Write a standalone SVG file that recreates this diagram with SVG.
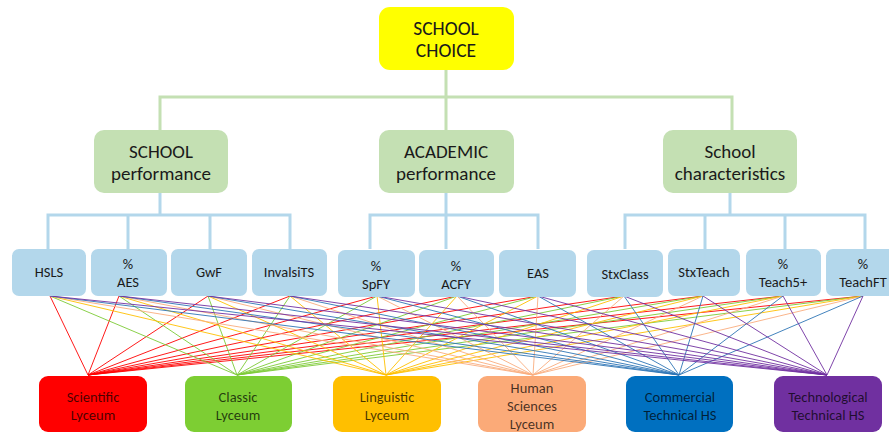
<svg xmlns="http://www.w3.org/2000/svg" width="889" height="434" viewBox="0 0 889 434">
<defs>
<style>
text{font-family:Carlito,"Liberation Sans Narrow","Open Sans",sans-serif;text-anchor:middle;dominant-baseline:central;fill:#1a1a1a}
.top{fill:#FFFF00}
.grp{fill:#C4E0B3}
.ind{fill:#B3D7EB}
.t1{font-size:19.5px}
.t2{font-size:19px}
.t3{font-size:14.5px}
.t4{font-size:14.5px;fill:#000;fill-opacity:0.72}
.gl{stroke:#C4E0B3;stroke-width:3;fill:none}
.bl{stroke:#B3D7EB;stroke-width:3;fill:none}
.c1{stroke:#FF0000}.c2{stroke:#7DCB35}.c3{stroke:#FFC000}.c4{stroke:#F9AD7E}.c5{stroke:#2E75B6}.c6{stroke:#7030A0}
#links line{stroke-width:0.9}
</style>
</defs>
<rect width="889" height="434" fill="#fff"/>
<g id="connectors">
<path class="gl" d="M446 70V97M160 130V97H732V130M446 97V130"/>
<path class="bl" d="M160 192V215M48 249V215H290V249M128 215V249M210 215V249"/>
<path class="bl" d="M446 192V249M370 249V215H538V249"/>
<path class="bl" d="M730 192V215M625 249V215H865V249M705 215V249M785 215V249"/>
</g>
<g id="links">
<g class="c1">
<line x1="50" y1="296" x2="88" y2="375"/><line x1="119" y1="296" x2="88" y2="375"/><line x1="208" y1="296" x2="88" y2="375"/><line x1="290" y1="296" x2="88" y2="375"/><line x1="377" y1="296" x2="88" y2="375"/><line x1="457" y1="296" x2="88" y2="375"/><line x1="538" y1="296" x2="88" y2="375"/><line x1="624" y1="296" x2="88" y2="375"/><line x1="703" y1="296" x2="88" y2="375"/><line x1="783" y1="296" x2="88" y2="375"/><line x1="863" y1="296" x2="88" y2="375"/>
</g>
<g class="c2">
<line x1="50" y1="296" x2="237" y2="375"/><line x1="119" y1="296" x2="237" y2="375"/><line x1="208" y1="296" x2="237" y2="375"/><line x1="290" y1="296" x2="237" y2="375"/><line x1="377" y1="296" x2="237" y2="375"/><line x1="457" y1="296" x2="237" y2="375"/><line x1="538" y1="296" x2="237" y2="375"/><line x1="624" y1="296" x2="237" y2="375"/><line x1="703" y1="296" x2="237" y2="375"/><line x1="783" y1="296" x2="237" y2="375"/><line x1="863" y1="296" x2="237" y2="375"/>
</g>
<g class="c3">
<line x1="50" y1="296" x2="386" y2="375"/><line x1="119" y1="296" x2="386" y2="375"/><line x1="208" y1="296" x2="386" y2="375"/><line x1="290" y1="296" x2="386" y2="375"/><line x1="377" y1="296" x2="386" y2="375"/><line x1="457" y1="296" x2="386" y2="375"/><line x1="538" y1="296" x2="386" y2="375"/><line x1="624" y1="296" x2="386" y2="375"/><line x1="703" y1="296" x2="386" y2="375"/><line x1="783" y1="296" x2="386" y2="375"/><line x1="863" y1="296" x2="386" y2="375"/>
</g>
<g class="c4">
<line x1="50" y1="296" x2="533" y2="375"/><line x1="119" y1="296" x2="533" y2="375"/><line x1="208" y1="296" x2="533" y2="375"/><line x1="290" y1="296" x2="533" y2="375"/><line x1="377" y1="296" x2="533" y2="375"/><line x1="457" y1="296" x2="533" y2="375"/><line x1="538" y1="296" x2="533" y2="375"/><line x1="624" y1="296" x2="533" y2="375"/><line x1="703" y1="296" x2="533" y2="375"/><line x1="783" y1="296" x2="533" y2="375"/><line x1="863" y1="296" x2="533" y2="375"/>
</g>
<g class="c5">
<line x1="50" y1="296" x2="679" y2="375"/><line x1="119" y1="296" x2="679" y2="375"/><line x1="208" y1="296" x2="679" y2="375"/><line x1="290" y1="296" x2="679" y2="375"/><line x1="377" y1="296" x2="679" y2="375"/><line x1="457" y1="296" x2="679" y2="375"/><line x1="538" y1="296" x2="679" y2="375"/><line x1="624" y1="296" x2="679" y2="375"/><line x1="703" y1="296" x2="679" y2="375"/><line x1="783" y1="296" x2="679" y2="375"/><line x1="863" y1="296" x2="679" y2="375"/>
</g>
<g class="c6">
<line x1="50" y1="296" x2="827" y2="375"/><line x1="119" y1="296" x2="827" y2="375"/><line x1="208" y1="296" x2="827" y2="375"/><line x1="290" y1="296" x2="827" y2="375"/><line x1="377" y1="296" x2="827" y2="375"/><line x1="457" y1="296" x2="827" y2="375"/><line x1="538" y1="296" x2="827" y2="375"/><line x1="624" y1="296" x2="827" y2="375"/><line x1="703" y1="296" x2="827" y2="375"/><line x1="783" y1="296" x2="827" y2="375"/><line x1="863" y1="296" x2="827" y2="375"/>
</g>
</g>
<g id="school-choice"><rect class="top" x="379" y="7" width="135" height="63" rx="11"/><text class="t1" x="446" y="28">SCHOOL</text><text class="t1" x="446" y="50">CHOICE</text></g>
<g id="school-performance"><rect class="grp" x="94" y="130" width="134" height="63" rx="10"/><text class="t2" x="161" y="151">SCHOOL</text><text class="t2" x="161" y="173">performance</text></g>
<g id="academic-performance"><rect class="grp" x="379" y="130" width="135" height="63" rx="10"/><text class="t2" x="446" y="151">ACADEMIC</text><text class="t2" x="446" y="173">performance</text></g>
<g id="school-characteristics"><rect class="grp" x="663" y="130" width="134" height="63" rx="10"/><text class="t2" x="730" y="151">School</text><text class="t2" x="730" y="173">characteristics</text></g>
<g id="hsls"><rect class="ind" x="12" y="249" width="74" height="47" rx="7"/><text class="t3" x="49" y="272">HSLS</text></g>
<g id="aes"><rect class="ind" x="91" y="249" width="76" height="47" rx="7"/><text class="t3" x="128" y="264">%</text><text class="t3" x="128" y="282">AES</text></g>
<g id="gwf"><rect class="ind" x="171" y="249" width="76" height="47" rx="7"/><text class="t3" x="209" y="272">GwF</text></g>
<g id="invalsits"><rect class="ind" x="252" y="249" width="75" height="47" rx="7"/><text class="t3" x="289" y="272">InvalsiTS</text></g>
<g id="spfy"><rect class="ind" x="338" y="250" width="77" height="47" rx="7"/><text class="t3" x="376" y="266">%</text><text class="t3" x="376" y="284">SpFY</text></g>
<g id="acfy"><rect class="ind" x="419" y="250" width="75" height="47" rx="7"/><text class="t3" x="456" y="266">%</text><text class="t3" x="456" y="284">ACFY</text></g>
<g id="eas"><rect class="ind" x="499" y="250" width="77" height="47" rx="7"/><text class="t3" x="538" y="273">EAS</text></g>
<g id="stxclass"><rect class="ind" x="587" y="250" width="76" height="47" rx="7"/><text class="t3" x="625" y="274">StxClass</text></g>
<g id="stxteach"><rect class="ind" x="668" y="249" width="72" height="47" rx="7"/><text class="t3" x="704" y="272">StxTeach</text></g>
<g id="teach5"><rect class="ind" x="746" y="249" width="75" height="47" rx="7"/><text class="t3" x="783" y="264">%</text><text class="t3" x="783" y="282">Teach5+</text></g>
<g id="teachft"><rect class="ind" x="826" y="249" width="70" height="47" rx="7"/><text class="t3" x="863" y="264">%</text><text class="t3" x="863" y="282">TeachFT</text></g>
<g id="scientific"><rect x="39" y="376" width="108" height="56" rx="9" fill="#FF0000"/><text class="t4" x="93" y="397">Scientific</text><text class="t4" x="93" y="415">Lyceum</text></g>
<g id="classic"><rect x="185" y="376" width="107" height="56" rx="9" fill="#7DCE33"/><text class="t4" x="238" y="397">Classic</text><text class="t4" x="238" y="415">Lyceum</text></g>
<g id="linguistic"><rect x="333" y="376" width="108" height="56" rx="9" fill="#FFBF00"/><text class="t4" x="387" y="397">Linguistic</text><text class="t4" x="387" y="415">Lyceum</text></g>
<g id="human"><rect x="478" y="376" width="108" height="56" rx="9" fill="#FBAA78"/><text class="t4" x="532" y="388">Human</text><text class="t4" x="532" y="406">Sciences</text><text class="t4" x="532" y="424">Lyceum</text></g>
<g id="commercial"><rect x="626" y="376" width="107" height="56" rx="9" fill="#0070C0"/><text class="t4" x="680" y="397">Commercial</text><text class="t4" x="680" y="415">Technical HS</text></g>
<g id="technological"><rect x="774" y="376" width="108" height="56" rx="9" fill="#7030A0"/><text class="t4" x="828" y="397">Technological</text><text class="t4" x="828" y="415">Technical HS</text></g>
</svg>
